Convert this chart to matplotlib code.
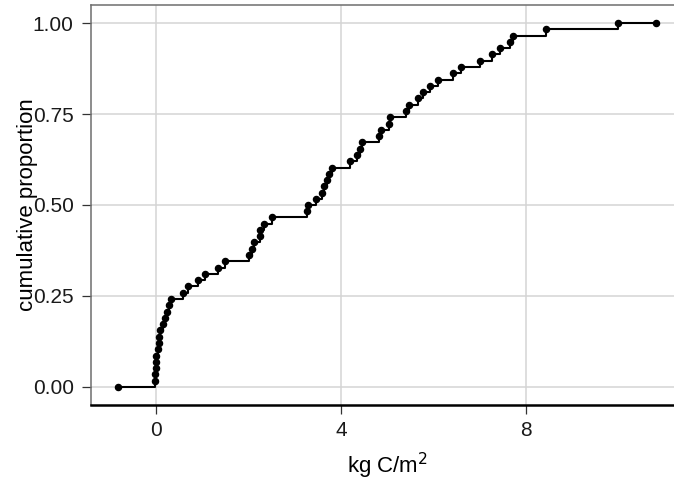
import matplotlib
matplotlib.use("Agg")
import matplotlib.pyplot as plt

plt.rcParams["font.family"] = ["Liberation Sans", "DejaVu Sans"]

# sorted carbon stocks (kg C/m2) and their cumulative proportion
carbon = [-0.83,
          -0.02, -0.02, -0.01, -0.01, 0.00,
          0.05, 0.06, 0.07, 0.08,
          0.16, 0.19, 0.24, 0.28, 0.32,
          0.58, 0.68, 0.91, 1.06, 1.35, 1.49,
          2.02, 2.07, 2.12, 2.25, 2.26, 2.34, 2.50,
          3.26, 3.29, 3.47, 3.60, 3.64, 3.69, 3.75, 3.80,
          4.19, 4.35, 4.41, 4.45, 4.82, 4.86, 5.04, 5.06,
          5.41, 5.48, 5.68, 5.77, 5.94, 6.10, 6.43, 6.61,
          7.01, 7.28, 7.44, 7.67, 7.73, 8.45, 10.01, 10.83]
cum_prop = [0.000,
            0.017, 0.034, 0.052, 0.069, 0.086,
            0.103, 0.121, 0.138, 0.155,
            0.172, 0.190, 0.207, 0.224, 0.241,
            0.259, 0.276, 0.293, 0.310, 0.328, 0.345,
            0.362, 0.379, 0.397, 0.414, 0.431, 0.448, 0.466,
            0.483, 0.500, 0.517, 0.534, 0.552, 0.569, 0.586, 0.603,
            0.621, 0.638, 0.655, 0.672, 0.690, 0.707, 0.724, 0.741,
            0.759, 0.776, 0.793, 0.810, 0.828, 0.845, 0.862, 0.879,
            0.897, 0.914, 0.931, 0.948, 0.966, 0.983, 1.000, 1.000]

x_ticks = [0, 4, 8]
y_ticks = [0.00, 0.25, 0.50, 0.75, 1.00]

W, H = 674, 487
fig = plt.figure(figsize=(W / 100, H / 100), dpi=100)
# panel runs past the right edge of the figure
ax = fig.add_axes([91 / W, (H - 405) / H, 592 / W, 400 / H])

ax.plot(carbon, cum_prop, drawstyle="steps-post", color="black", lw=1.5, zorder=3)
ax.plot(carbon, cum_prop, "o", color="black", ms=4.4, zorder=4)

ax.set_xlim(-1.41, 11.41)
ax.set_ylim(-0.05, 1.05)
ax.set_xticks(x_ticks)
ax.set_yticks(y_ticks)
ax.set_yticklabels(["%.2f" % v for v in y_ticks])
ax.grid(True, color="#d4d4d4", lw=1.1)
ax.set_axisbelow(True)

for side in ["top", "right", "left"]:
    ax.spines[side].set_color("#6e6e6e")
    ax.spines[side].set_linewidth(1.1)
ax.spines["bottom"].set_color("black")
ax.spines["bottom"].set_linewidth(1.8)

ax.tick_params(axis="both", length=6.5, width=0.9, color="#333333",
               labelsize=15, labelcolor="#1a1a1a")
ax.tick_params(axis="x", pad=5)
ax.tick_params(axis="y", pad=6)

ax.set_xlabel("kg C/m$^2$", fontsize=16, labelpad=8)
ax.set_ylabel("cumulative proportion", fontsize=16, va="center")
ax.yaxis.set_label_coords(-0.108, 0.5)

fig.savefig("out.png", dpi=100)
